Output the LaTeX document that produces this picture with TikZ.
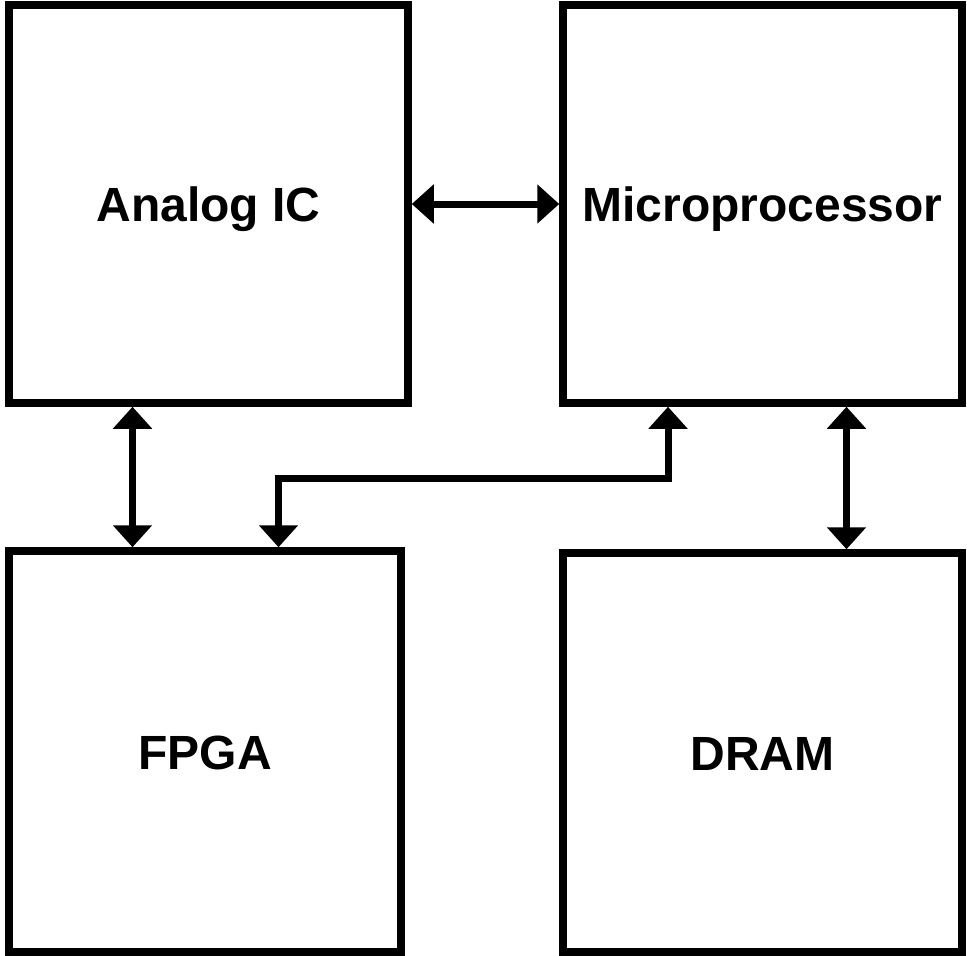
\documentclass[tikz,border=0pt]{standalone}
\usepackage{fontspec}
\setmainfont{Liberation Sans}
\usetikzlibrary{arrows.meta}
\begin{document}
\begin{tikzpicture}[x=1bp,y=-1bp,
  blockbox/.style={draw=black,line width=7.5bp,inner sep=0pt,
    text height=35bp,text depth=0pt,
    font=\fontsize{48bp}{57bp}\selectfont\bfseries},
  arr/.style={line width=7bp,{Triangle[length=22bp,width=38bp]}-{Triangle[length=22bp,width=38bp]}}]
\useasboundingbox (0,0) rectangle (967,956);
\node[blockbox,minimum width=399bp,minimum height=398bp] (a) at (208.5,204) {Analog IC};
\node[blockbox,minimum width=399bp,minimum height=398bp] (m) at (762.5,204) {Microprocessor};
\node[blockbox,minimum width=392bp,minimum height=401bp] (f) at (205,751.5) {FPGA};
\node[blockbox,minimum width=399bp,minimum height=399bp] (d) at (762.5,752.5) {DRAM};
\draw[arr] (a.east) -- (m.west);
\draw[arr] (a.south -| 132.5,0) -- (f.north -| 132.5,0);
\draw[arr] (m.south -| 846.5,0) -- (d.north -| 846.5,0);
\draw[arr] (m.south -| 668,0) -- (668,478.5) -- (278.5,478.5) -- (f.north -| 278.5,0);
\end{tikzpicture}
\end{document}
